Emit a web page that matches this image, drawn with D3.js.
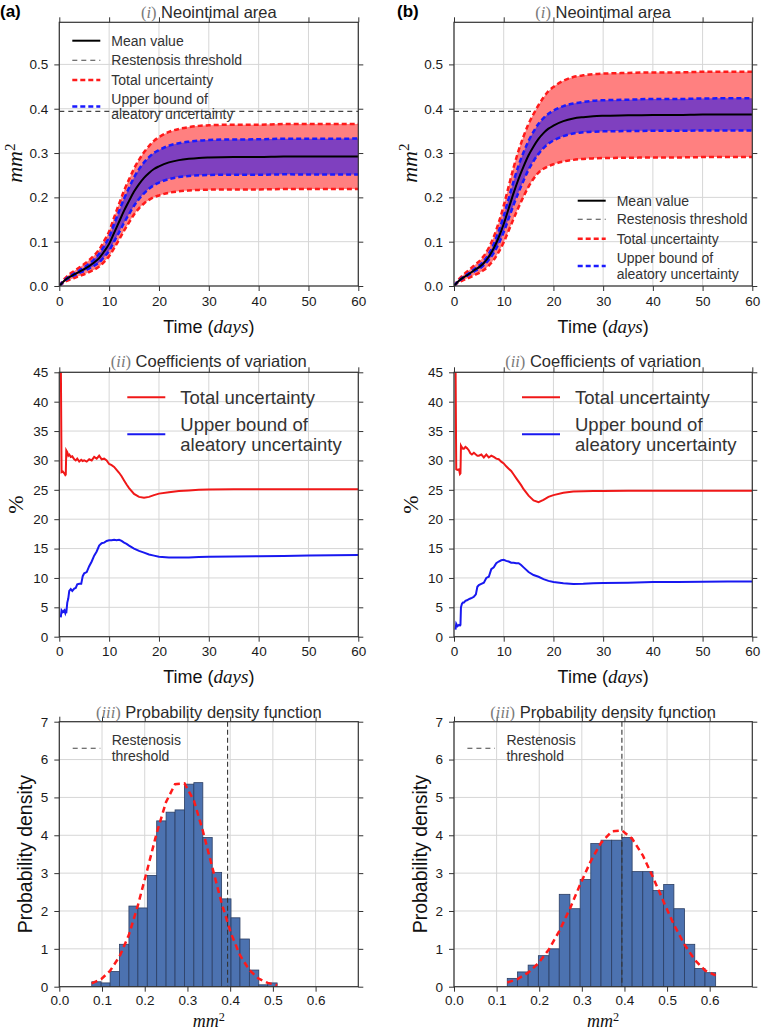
<!DOCTYPE html>
<html><head><meta charset="utf-8">
<script src="https://cdn.jsdelivr.net/npm/d3@7"></script>
<style>body{margin:0;background:#fff} svg{display:block}</style>
</head><body>
<svg id="c" width="761" height="1033"></svg>
<script>
// ---------------- DATA ----------------
const threshold = 0.394;
const tDays = [0,1,2,3,4,5,6,7,8,9,10,11,12,13,14,15,16,17,18,19,20,22,24,26,28,30,35,40,45,50,55,60];
const meanA  = [0,0.012,0.020,0.026,0.032,0.038,0.045,0.053,0.063,0.078,0.095,0.120,0.145,0.170,0.192,0.213,0.230,0.244,0.255,0.264,0.270,0.279,0.284,0.287,0.289,0.290,0.291,0.291,0.292,0.292,0.292,0.292];
const totUpA = [0,0.0154,0.0262,0.0339,0.0416,0.0495,0.0585,0.0691,0.0823,0.1016,0.1229,0.1547,0.1855,0.2152,0.2406,0.2648,0.2847,0.3017,0.3157,0.3276,0.3357,0.3476,0.3544,0.3585,0.3613,0.3626,0.3640,0.3640,0.3653,0.3653,0.3653,0.3653];
const totLoA = [0,0.0086,0.0138,0.0181,0.0224,0.0265,0.0315,0.0369,0.0437,0.0544,0.0671,0.0853,0.1045,0.1248,0.1434,0.1612,0.1753,0.1863,0.1943,0.2004,0.2043,0.2104,0.2136,0.2155,0.2168,0.2174,0.2180,0.2180,0.2187,0.2187,0.2187,0.2187];
const aleUpA = [0,0.0125,0.0216,0.0281,0.0349,0.0421,0.0504,0.0603,0.0728,0.0905,0.1106,0.1398,0.1689,0.1972,0.2218,0.2450,0.2636,0.2789,0.2907,0.3004,0.3067,0.3167,0.3223,0.3257,0.3282,0.3294,0.3307,0.3309,0.3322,0.3323,0.3324,0.3326];
const aleLoA = [0,0.0115,0.0184,0.0239,0.0291,0.0339,0.0396,0.0457,0.0532,0.0655,0.0794,0.1002,0.1211,0.1428,0.1622,0.1811,0.1964,0.2091,0.2193,0.2276,0.2333,0.2413,0.2457,0.2483,0.2498,0.2506,0.2513,0.2511,0.2519,0.2517,0.2516,0.2514];

const meanB  = [0,0.012,0.020,0.027,0.035,0.042,0.052,0.066,0.085,0.110,0.140,0.175,0.210,0.242,0.270,0.295,0.315,0.332,0.345,0.355,0.362,0.372,0.378,0.381,0.383,0.384,0.385,0.386,0.386,0.387,0.387,0.387];
const totUpB = [0,0.0154,0.0264,0.0356,0.0459,0.0549,0.0679,0.0862,0.1110,0.1432,0.1813,0.2251,0.2680,0.3059,0.3378,0.3658,0.3881,0.4080,0.4254,0.4395,0.4492,0.4631,0.4714,0.4753,0.4780,0.4792,0.4807,0.4819,0.4819,0.4832,0.4832,0.4832];
const totLoB = [0,0.0086,0.0136,0.0184,0.0241,0.0291,0.0361,0.0458,0.0590,0.0768,0.0987,0.1250,0.1520,0.1781,0.2022,0.2242,0.2419,0.2560,0.2646,0.2705,0.2748,0.2809,0.2846,0.2867,0.2880,0.2888,0.2893,0.2901,0.2901,0.2908,0.2908,0.2908];
const aleUpB = [0,0.0122,0.0212,0.0287,0.0374,0.0457,0.0568,0.0727,0.0950,0.1241,0.1583,0.1974,0.2365,0.2723,0.3019,0.3275,0.3481,0.3659,0.3788,0.3887,0.3957,0.4059,0.4118,0.4153,0.4179,0.4191,0.4204,0.4219,0.4219,0.4232,0.4234,0.4234];
const aleLoB = [0,0.0118,0.0188,0.0253,0.0326,0.0383,0.0472,0.0593,0.0750,0.0959,0.1217,0.1526,0.1835,0.2118,0.2381,0.2626,0.2819,0.2981,0.3112,0.3213,0.3283,0.3381,0.3442,0.3467,0.3481,0.3489,0.3496,0.3501,0.3501,0.3508,0.3506,0.3506];

const tCov = [0.3,0.45,0.7,1.0,1.2,1.3,1.4,1.6,1.8,2.0,2.3,2.6,3.0,3.3,3.6,4.0,4.4,4.7,5.0,5.5,6.0,6.5,7.0,7.5,8.0,8.5,9.0,9.5,10,10.5,11,11.5,12,12.5,13,13.5,14,15,16,17,18,19,20,22,24,26,28,30,35,40,45,50,55,60];
const covTotA = [48,28,28.1,27.8,27.5,27.6,31.7,31.4,30.8,31.0,30.6,30.7,30.2,30.0,30.3,29.8,30.1,29.9,30.0,29.8,30.2,30.0,30.6,30.3,30.8,30.2,30.3,30.0,29.4,29.2,28.9,28.4,27.9,27.3,26.6,25.9,25.3,24.3,23.8,23.65,23.8,24.1,24.35,24.6,24.8,24.9,25.0,25.05,25.1,25.1,25.1,25.1,25.1,25.1];
const covAleA = [3.3,4.5,4.2,4.5,4.0,4.3,4.0,5.8,6.5,7.8,8.1,7.8,8.2,8.3,8.9,9.0,9.0,10.3,10.8,11.0,12.0,12.8,13.8,14.5,15.5,15.9,16.0,16.3,16.4,16.4,16.5,16.4,16.5,16.3,16.0,15.8,15.5,15.0,14.6,14.3,14.0,13.8,13.6,13.5,13.5,13.5,13.55,13.6,13.65,13.7,13.75,13.8,13.85,13.9];
const covTotB = [48,28.5,28.4,28.5,27.7,27.8,32.5,32.2,32.0,32.0,32.3,32.1,31.7,31.2,31.0,31.3,31.0,30.8,30.8,31.0,30.5,31.0,30.5,30.8,30.6,30.3,30.2,29.8,29.5,29.0,28.6,28.2,27.6,27.0,26.4,25.8,25.1,24.0,23.2,22.9,23.3,23.8,24.1,24.5,24.7,24.75,24.8,24.8,24.85,24.85,24.85,24.85,24.85,24.85];
const covAleB = [1.2,2.2,1.8,2.0,1.9,2.0,5.0,5.6,5.8,5.8,6.1,6.2,6.4,6.5,6.6,6.8,7.2,8.5,8.8,9.0,9.2,10.0,10.2,11.5,11.8,12.5,12.8,13.0,13.1,12.9,12.8,12.6,12.6,12.5,12.5,12.2,11.8,11.0,10.5,10.2,9.8,9.5,9.3,9.1,8.95,9.0,9.1,9.15,9.2,9.3,9.3,9.35,9.4,9.4];

const binEdgesA = [0.076,0.098,0.119,0.141,0.163,0.184,0.206,0.228,0.250,0.271,0.293,0.315,0.336,0.358,0.380,0.402,0.423,0.445,0.467,0.488,0.510];
const densA = [0.13,0.10,0.40,1.12,2.13,2.08,2.94,4.38,4.61,4.67,5.35,5.39,3.94,3.02,2.32,1.82,1.26,0.44,0.05,0.10];
const pdfA = [0.09,0.20,0.42,0.80,1.37,2.15,3.09,4.06,4.88,5.35,5.37,4.92,4.12,3.16,2.21,1.41,0.83,0.44,0.21,0.10,0.04];
const binEdgesB = [0.125,0.149,0.174,0.198,0.223,0.247,0.272,0.296,0.321,0.345,0.370,0.394,0.418,0.443,0.467,0.492,0.516,0.541,0.565,0.589,0.614];
const densB = [0.22,0.39,0.57,0.82,1.00,2.44,2.06,2.83,3.78,3.87,3.87,3.94,3.04,3.04,2.54,2.70,2.06,1.12,0.48,0.37];
const pdfB = [0.11,0.20,0.37,0.62,0.99,1.47,2.06,2.70,3.32,3.80,4.10,4.13,3.91,3.47,2.89,2.24,1.64,1.11,0.71,0.43,0.30];

const timeTicks = [0,10,20,30,40,50,60];
const areaTicks = [0,0.1,0.2,0.3,0.4,0.5];
const covTicks = [0,5,10,15,20,25,30,35,40,45];
const histXTicks = [0,0.1,0.2,0.3,0.4,0.5,0.6];
const histYTicks = [0,1,2,3,4,5,6,7];

// ---------------- LAYOUT ----------------
const SANS = "'Liberation Sans', Arial, Helvetica, sans-serif";
const SERIF = "'Liberation Serif', 'Times New Roman', serif";
const cols = [[59.3, 358.3], [454, 752.3]];
const rows = {top: [22.3, 286], mid: [372.3, 636.7], bot: [721.7, 986.7]};
const svg = d3.select('#c');
let clipId = 0;

function makePanel(col, row, xDomain, yDomain) {
  const [x0, x1] = cols[col];
  const [y0, y1] = rows[row];
  const x = d3.scaleLinear().domain(xDomain).range([x0, x1]);
  const y = d3.scaleLinear().domain(yDomain).range([y1, y0]);
  const g = svg.append('g');
  const id = 'clip' + (clipId++);
  svg.append('clipPath').attr('id', id).append('rect')
    .attr('x', x0).attr('y', y0).attr('width', x1 - x0).attr('height', y1 - y0);
  return {x, y, g, x0, x1, y0, y1, clip: `url(#${id})`};
}

function grid(p, xt, yt) {
  const gg = p.g.append('g').attr('stroke', '#d6d6d6').attr('stroke-width', 1);
  gg.selectAll('.gx').data(xt).join('line')
    .attr('x1', d => p.x(d)).attr('x2', d => p.x(d)).attr('y1', p.y0).attr('y2', p.y1);
  gg.selectAll('.gy').data(yt).join('line')
    .attr('x1', p.x0).attr('x2', p.x1).attr('y1', d => p.y(d)).attr('y2', d => p.y(d));
}

function axes(p, xt, yt, xf, yf, xpad) {
  const style = sel => {
    sel.select('.domain').remove();
    sel.selectAll('line').attr('stroke', '#333').attr('stroke-width', 1);
    sel.selectAll('text').attr('font-family', SANS).attr('font-size', 13.5).attr('fill', '#1a1a1a');
  };
  p.g.append('g').attr('transform', `translate(0,${p.y1})`)
    .call(d3.axisBottom(p.x).tickValues(xt).tickFormat(xf).tickSizeInner(5).tickSizeOuter(0).tickPadding(xpad)).call(style);
  p.g.append('g').attr('transform', `translate(0,${p.y0})`)
    .call(d3.axisTop(p.x).tickValues(xt).tickFormat(() => '').tickSizeInner(5).tickSizeOuter(0)).call(style);
  p.g.append('g').attr('transform', `translate(${p.x0},0)`)
    .call(d3.axisLeft(p.y).tickValues(yt).tickFormat(yf).tickSizeInner(5).tickSizeOuter(0).tickPadding(6)).call(style);
  p.g.append('g').attr('transform', `translate(${p.x1},0)`)
    .call(d3.axisRight(p.y).tickValues(yt).tickFormat(() => '').tickSizeInner(5).tickSizeOuter(0)).call(style);
  p.g.append('rect').attr('x', p.x0).attr('y', p.y0).attr('width', p.x1 - p.x0).attr('height', p.y1 - p.y0)
    .attr('fill', 'none').attr('stroke', '#333').attr('stroke-width', 1.2);
}

function title(p, roman, text, cy) {
  const t = svg.append('text').attr('x', (p.x0 + p.x1) / 2).attr('y', cy).attr('dy', '0.35em')
    .attr('text-anchor', 'middle').attr('font-size', 16.5);
  t.append('tspan').attr('font-family', SERIF).attr('fill', '#7a7a7a').text('(');
  t.append('tspan').attr('font-family', SERIF).attr('font-style', 'italic').attr('fill', '#7a7a7a').text(roman);
  t.append('tspan').attr('font-family', SERIF).attr('fill', '#7a7a7a').text(')');
  t.append('tspan').attr('font-family', SANS).attr('fill', '#2b2b2b').text(' ' + text);
}

function mm2(parent, x, y, rotate, fs) {
  const t = parent.append('text').attr('text-anchor', 'middle').attr('font-size', fs).attr('fill', '#111')
    .attr('transform', rotate ? `translate(${x},${y}) rotate(-90)` : `translate(${x},${y})`).attr('dy', '0.35em');
  t.append('tspan').attr('font-family', SERIF).attr('font-style', 'italic').text('mm');
  t.append('tspan').attr('font-family', SERIF).attr('font-size', fs * 0.68).attr('dy', '-0.5em').text('2');
}

function timeLabel(p, cy) {
  const t = svg.append('text').attr('x', (p.x0 + p.x1) / 2).attr('y', cy).attr('dy', '0.35em')
    .attr('text-anchor', 'middle').attr('font-size', 18).attr('fill', '#111');
  t.append('tspan').attr('font-family', SANS).text('Time (');
  t.append('tspan').attr('font-family', SERIF).attr('font-style', 'italic').attr('font-size', 19).text('days');
  t.append('tspan').attr('font-family', SANS).text(')');
}

function legendRow(g, lx0, lx1, ly, tx, lines, style, fs) {
  g.append('line').attr('x1', lx0).attr('x2', lx1).attr('y1', ly).attr('y2', ly)
    .attr('stroke', style.color).attr('stroke-width', style.width).attr('stroke-dasharray', style.dash || null);
  lines.forEach(l => {
    g.append('text').attr('x', tx).attr('y', l[1]).attr('dy', '0.35em').attr('font-family', SANS)
      .attr('font-size', fs).attr('fill', '#333').text(l[0]);
  });
}

const sMean = {color: '#000', width: 2};
const sThr = {color: '#444', width: 1.1, dash: '5,4'};
const sTot = {color: '#ff1a1a', width: 2.5, dash: '5,3'};
const sAle = {color: '#1a1aff', width: 2.5, dash: '5,3'};

// ---------------- TOP: Neointimal area ----------------
function areaPanel(col, mean, tU, tL, aU, aL, legendPos) {
  const p = makePanel(col, 'top', [0, 60], [0, 0.595]);
  grid(p, timeTicks, areaTicks);
  const c = p.g.append('g').attr('clip-path', p.clip);
  const idx = d3.range(tDays.length);
  c.append('line').attr('x1', p.x0).attr('x2', p.x1).attr('y1', p.y(threshold)).attr('y2', p.y(threshold))
    .attr('stroke', sThr.color).attr('stroke-width', sThr.width).attr('stroke-dasharray', sThr.dash);
  const band = (U, L) => d3.area().x(i => p.x(tDays[i])).y0(i => p.y(L[i])).y1(i => p.y(U[i])).curve(d3.curveMonotoneX);
  const ln = (A) => d3.line().x(i => p.x(tDays[i])).y(i => p.y(A[i])).curve(d3.curveMonotoneX);
  c.append('path').attr('d', band(tU, tL)(idx)).attr('fill', '#ff8080');
  c.append('path').attr('d', band(aU, aL)(idx)).attr('fill', '#7f40bf');
  [tU, tL].forEach(A => c.append('path').attr('d', ln(A)(idx)).attr('fill', 'none')
    .attr('stroke', sTot.color).attr('stroke-width', sTot.width).attr('stroke-dasharray', sTot.dash));
  [aU, aL].forEach(A => c.append('path').attr('d', ln(A)(idx)).attr('fill', 'none')
    .attr('stroke', sAle.color).attr('stroke-width', sAle.width).attr('stroke-dasharray', sAle.dash));
  c.append('path').attr('d', ln(mean)(idx)).attr('fill', 'none').attr('stroke', '#000').attr('stroke-width', 2);
  axes(p, timeTicks, areaTicks, d3.format('d'), d3.format('.1f'), 5);
  title(p, 'i', 'Neointimal area', 12.3);
  mm2(svg, p.x0 - 45, (p.y0 + p.y1) / 2 + 9, true, 22);
  timeLabel(p, 327);
  // legend
  const L = svg.append('g');
  const [ox, rowsY] = legendPos;
  const lx0 = p.x0 + ox, lx1 = lx0 + 28, tx = lx0 + 39;
  legendRow(L, lx0, lx1, rowsY[0], tx, [['Mean value', rowsY[0]]], sMean, 14);
  legendRow(L, lx0, lx1, rowsY[1], tx, [['Restenosis threshold', rowsY[1]]], sThr, 14);
  legendRow(L, lx0, lx1, rowsY[2], tx, [['Total uncertainty', rowsY[2]]], sTot, 14);
  legendRow(L, lx0, lx1, (rowsY[3] + rowsY[4]) / 2, tx, [['Upper bound of', rowsY[3]], ['aleatory uncertainty', rowsY[4]]], sAle, 14);
  return p;
}
areaPanel(0, meanA, totUpA, totLoA, aleUpA, aleLoA, [13, [40.7, 60.3, 80, 99.2, 114]]);
areaPanel(1, meanB, totUpB, totLoB, aleUpB, aleLoB, [123.7, [200.7, 219.3, 238.7, 257.7, 274.3]]);

// panel letters
svg.append('text').attr('x', 0).attr('y', 17).attr('font-family', SANS).attr('font-weight', 'bold').attr('font-size', 17).attr('fill', '#000').text('(a)');
svg.append('text').attr('x', 397).attr('y', 17).attr('font-family', SANS).attr('font-weight', 'bold').attr('font-size', 17).attr('fill', '#000').text('(b)');

// ---------------- MIDDLE: CoV ----------------
function covPanel(col, tot, ale) {
  const p = makePanel(col, 'mid', [0, 60], [0, 45]);
  grid(p, timeTicks, covTicks);
  const c = p.g.append('g').attr('clip-path', p.clip);
  const idx = d3.range(tCov.length);
  const ln = (A) => d3.line().x(i => p.x(tCov[i])).y(i => p.y(A[i]));
  c.append('path').attr('d', ln(tot)(idx)).attr('fill', 'none').attr('stroke', '#f01818').attr('stroke-width', 2);
  c.append('path').attr('d', ln(ale)(idx)).attr('fill', 'none').attr('stroke', '#1818f0').attr('stroke-width', 2);
  axes(p, timeTicks, covTicks, d3.format('d'), d3.format('d'), 5);
  title(p, 'ii', 'Coefficients of variation', 361.7);
  svg.append('text').attr('transform', `translate(${p.x0 - 44},${(p.y0 + p.y1) / 2}) rotate(-90)`).attr('dy', '0.35em')
    .attr('text-anchor', 'middle').attr('font-family', SERIF).attr('font-size', 22).attr('fill', '#111').text('%');
  timeLabel(p, 677);
  const L = svg.append('g');
  const lx0 = p.x0 + 68, lx1 = p.x0 + 106, tx = p.x0 + 121;
  legendRow(L, lx0, lx1, 397.3, tx, [['Total uncertainty', 397.3]], {color: '#f01818', width: 2}, 18.5);
  legendRow(L, lx0, lx1, 434.3, tx, [['Upper bound of', 424.3], ['aleatory uncertainty', 444.3]], {color: '#1818f0', width: 2}, 18.5);
}
covPanel(0, covTotA, covAleA);
covPanel(1, covTotB, covAleB);

// ---------------- BOTTOM: PDF ----------------
function histPanel(col, edges, dens, pdf) {
  const p = makePanel(col, 'bot', [0, 0.7], [0, 7]);
  grid(p, histXTicks, histYTicks);
  const c = p.g.append('g').attr('clip-path', p.clip);
  c.selectAll('rect.bar').data(dens).join('rect')
    .attr('x', (d, i) => p.x(edges[i])).attr('width', (d, i) => p.x(edges[i + 1]) - p.x(edges[i]))
    .attr('y', d => p.y(d)).attr('height', d => p.y(0) - p.y(d))
    .attr('fill', '#4c72b0').attr('stroke', '#2b3e63').attr('stroke-width', 0.8);
  c.append('line').attr('x1', p.x(threshold)).attr('x2', p.x(threshold)).attr('y1', p.y0).attr('y2', p.y1)
    .attr('stroke', '#333').attr('stroke-width', 1.1).attr('stroke-dasharray', '5,3');
  const idx = d3.range(edges.length);
  c.append('path').attr('d', d3.line().x(i => p.x(edges[i])).y(i => p.y(pdf[i]))(idx))
    .attr('fill', 'none').attr('stroke', '#ff1a1a').attr('stroke-width', 2.5).attr('stroke-dasharray', '6,4');
  axes(p, histXTicks, histYTicks, d3.format('.1f'), d3.format('d'), 4);
  title(p, 'iii', 'Probability density function', 712.7);
  svg.append('text').attr('transform', `translate(${p.x0 - 34},${(p.y0 + p.y1) / 2}) rotate(-90)`).attr('dy', '0.35em')
    .attr('text-anchor', 'middle').attr('font-family', SANS).attr('font-size', 19.5).attr('fill', '#111').text('Probability density');
  mm2(svg, (p.x0 + p.x1) / 2, 1021, false, 18);
  const L = svg.append('g');
  legendRow(L, p.x0 + 13.4, p.x0 + 41, 748.3, p.x0 + 52.4, [['Restenosis', 740], ['threshold', 755.7]], sThr, 14);
}
histPanel(0, binEdgesA, densA, pdfA);
histPanel(1, binEdgesB, densB, pdfB);
</script>
</body></html>
